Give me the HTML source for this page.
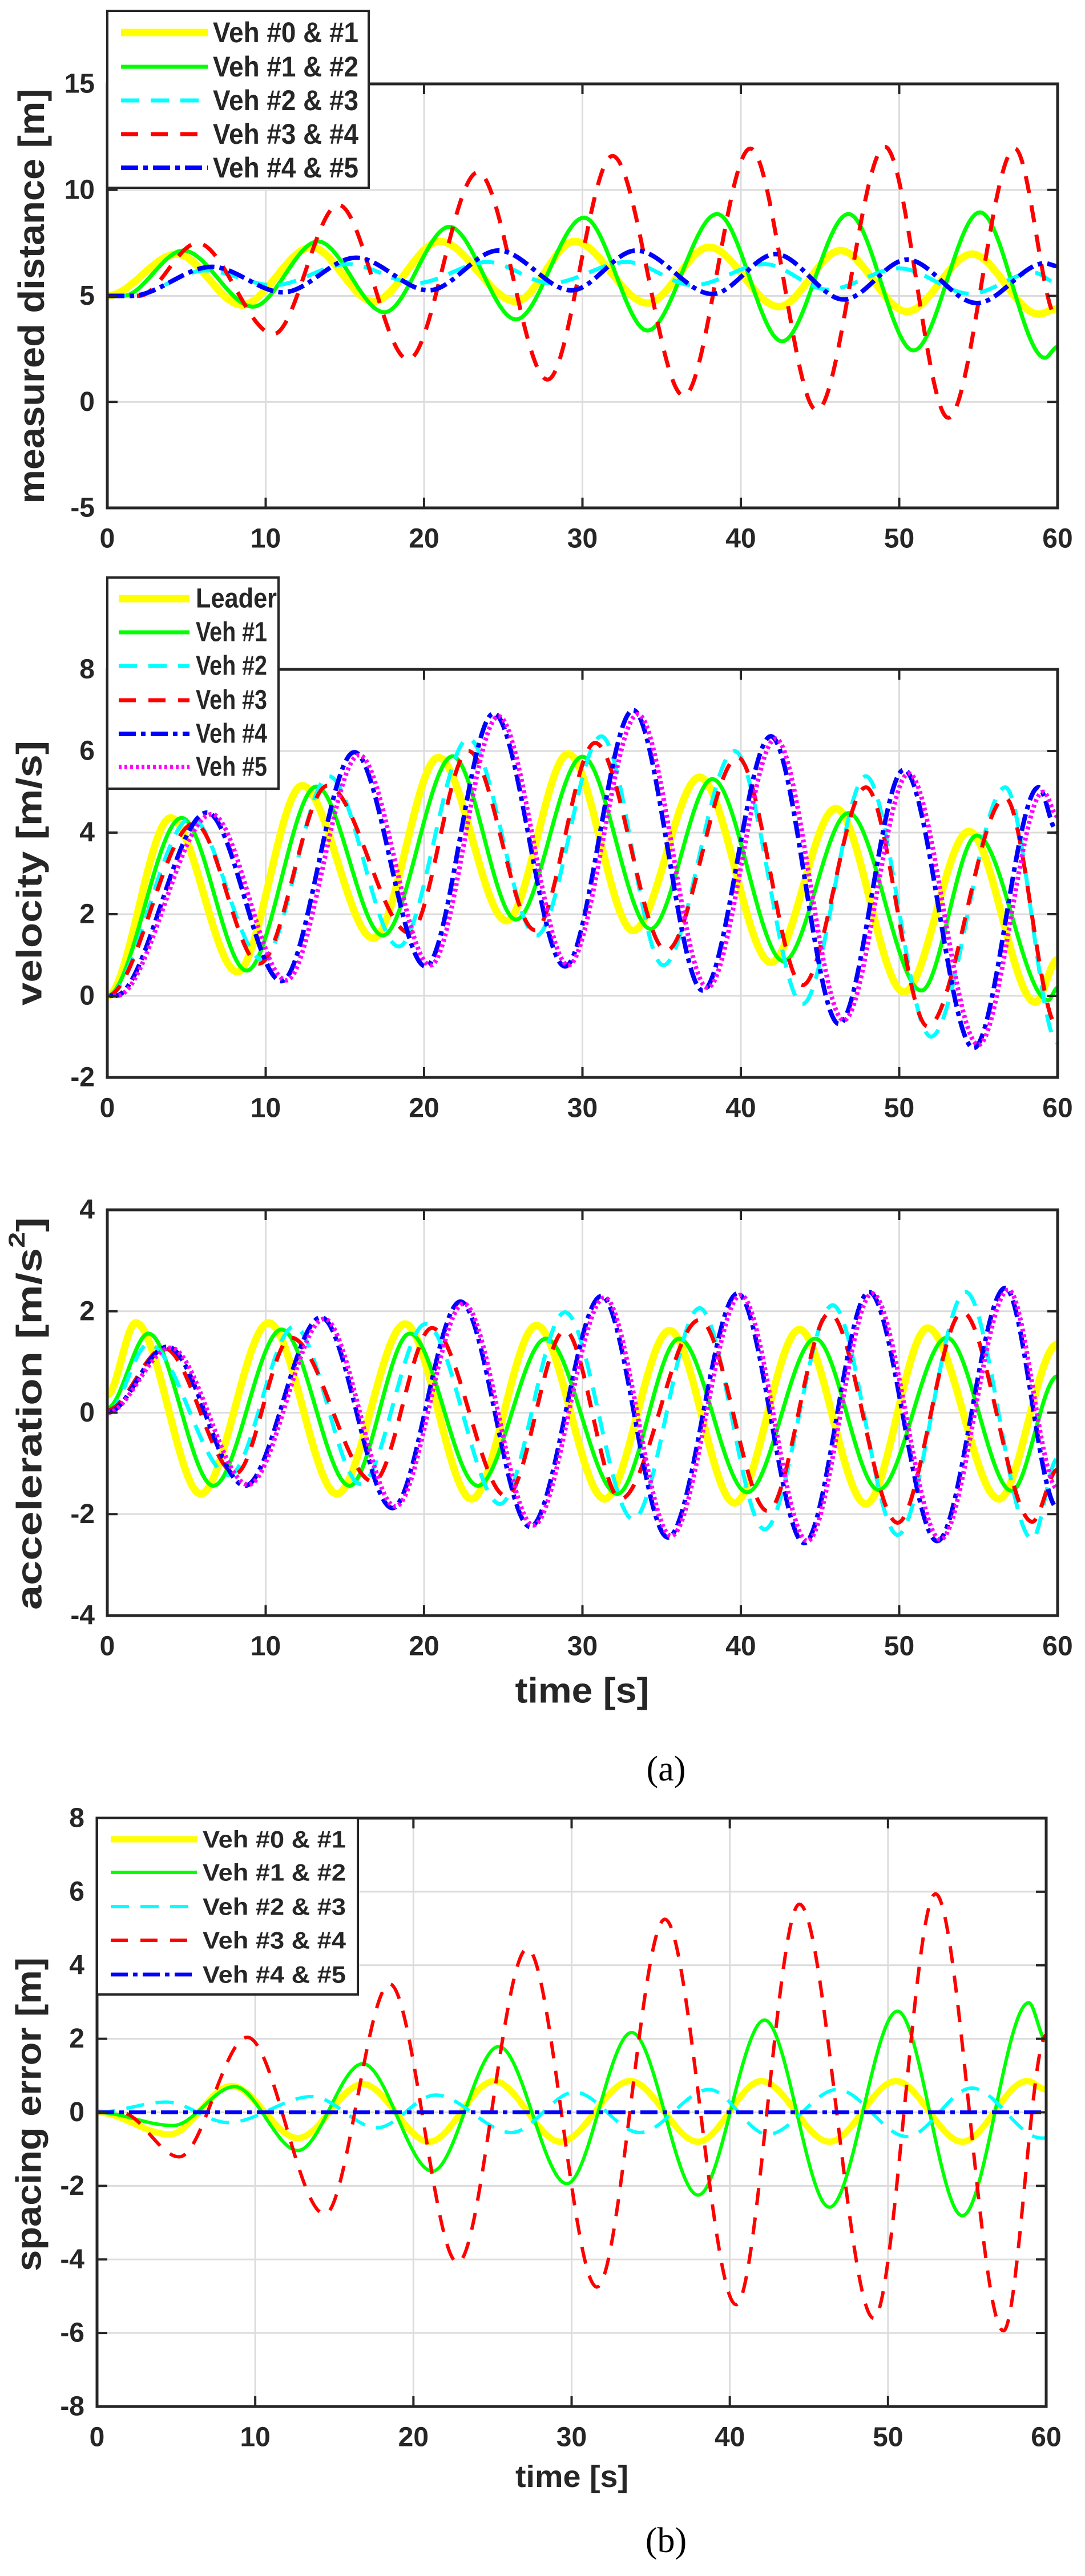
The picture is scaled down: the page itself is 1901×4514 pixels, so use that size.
<!DOCTYPE html>
<html><head><meta charset="utf-8"><title>Platoon simulation charts</title>
<style>
html,body{margin:0;padding:0;background:#fff;}
svg{display:block;}
text{font-family:"Liberation Sans",Arial,sans-serif;font-weight:bold;fill:#262626;}
.ser{font-family:"Liberation Serif","DejaVu Serif",serif;font-weight:normal;fill:#000;}
</style></head>
<body>
<svg id="fig" xmlns="http://www.w3.org/2000/svg" width="1901" height="4514" viewBox="0 0 1901 4514">
<rect x="0" y="0" width="1901" height="4514" fill="#fff"/>
<text class="ser" x="1167" y="3100" font-size="62" text-anchor="middle" dominant-baseline="central">(a)</text>
<text class="ser" x="1167" y="4452" font-size="62" text-anchor="middle" dominant-baseline="central">(b)</text>
</svg>
<script>
const xTicks = [0,10,20,30,40,50,60];
const p1Ticks = [-5,0,5,10,15];
const p2Ticks = [-2,0,2,4,6,8];
const p3Ticks = [-4,-2,0,2,4];
const pbTicks = [-8,-6,-4,-2,0,2,4,6,8];

const p1_t_01 = [0,4.4,8.5,12.9,16.8,21.0,25.8,29.5,34.1,38.0,42.4,46.3,50.5,54.6,58.8,60];
const p1_v_01 = [5,6.97,4.57,7.3,4.74,7.57,4.74,7.57,4.66,7.3,4.49,7.14,4.26,6.97,4.14,4.4];
const p1_t_12 = [0,1,4.8,9.2,13.3,17.5,21.6,25.8,30.1,34.1,38.5,42.6,46.8,50.9,55.1,59.2,60];
const p1_v_12 = [5,5,7.14,4.49,7.57,4.23,8.26,3.89,8.69,3.37,8.86,2.86,8.86,2.43,8.94,2.08,2.6];
const p1_t_23 = [0,1.5,6.2,10.5,15.2,19.5,24,28,32.8,37,41.5,45.5,50,54.5,58.5,60];
const p1_v_23 = [5,5,6.2,5.5,6.5,5.6,6.6,5.6,6.6,5.5,6.5,5.3,6.3,5.1,6.1,5.6];
const p1_t_34 = [0,2,5.7,10.5,14.6,19.0,23.4,27.8,31.9,36.4,40.6,44.8,49.1,53.1,57.3,60];
const p1_v_34 = [5,5,7.49,3.2,9.29,2.0,10.83,1.05,11.6,0.28,11.95,-0.4,12.03,-0.75,11.95,3.9];
const p1_t_45 = [0,1.5,6.6,11.1,15.7,20.3,24.7,29.3,33.4,38.2,42.2,46.5,50.5,54.9,59.2,60];
const p1_v_45 = [5,5,6.37,5.17,6.8,5.26,7.14,5.26,7.14,5.09,6.97,4.83,6.71,4.66,6.54,6.4];

const p2_t_L = [0,4.0,8.2,12.3,16.8,20.9,25.2,29.1,33.2,37.4,41.9,46.0,50.3,54.4,58.6,60];
const p2_v_L = [0,4.36,0.59,5.15,1.41,5.84,1.84,5.93,1.6,5.36,0.82,4.59,0.09,4.03,-0.16,0.89];
const p2_t_1 = [0,4.7,8.8,13.2,17.4,21.8,25.8,30.0,34.3,38.2,42.7,46.8,51.4,54.9,59.4,60];
const p2_v_1 = [0,4.36,0.62,5.13,1.48,5.87,1.87,5.86,1.64,5.31,0.85,4.48,0.13,3.93,-0.11,0.2];
const p2_t_2 = [0,5.3,9.8,14.0,18.4,22.8,27.1,31.2,35.1,39.6,43.9,47.9,52.0,56.7,60];
const p2_v_2 = [0,4.36,0.89,5.38,1.21,6.3,1.48,6.36,0.75,6.0,-0.2,5.38,-1.0,5.11,-1.15];
const p2_t_3 = [0,5.5,9.6,13.9,19.1,22.8,27.0,30.8,35.3,39.8,43.9,47.9,51.8,56.7,60];
const p2_v_3 = [0,4.23,0.79,5.15,1.54,6.0,1.61,6.2,1.11,5.84,0.26,5.11,-0.75,4.85,-0.75];
const p2_t_4 = [0,0.5,6.3,11.0,15.6,20.1,24.4,28.9,33.2,37.6,41.9,46.2,50.3,54.7,58.8,60];
const p2_v_4 = [0,0,4.49,0.36,5.97,0.72,6.92,0.72,7.0,0.13,6.36,-0.69,5.54,-1.28,5.11,4.0];
const p2_t_5 = [0,0.6,6.6,11.3,15.9,20.4,24.7,29.1,33.5,37.9,42.2,46.5,50.6,55.0,59.1,60];
const p2_v_5 = [0,0,4.45,0.38,5.9,0.75,6.85,0.75,6.9,0.2,6.3,-0.6,5.45,-1.2,5.0,4.4];

const p3_t_L = [0,1.8,5.9,10.2,14.5,18.8,23.0,27.1,31.4,35.5,39.6,43.7,47.9,51.8,56.3,60];
const p3_v_L = [0.35,1.77,-1.6,1.77,-1.6,1.75,-1.7,1.72,-1.7,1.62,-1.78,1.64,-1.8,1.67,-1.7,1.35];
const p3_t_1 = [0,2.6,6.7,11.0,15.3,19.1,23.4,27.7,32.2,36.1,40.4,44.7,48.7,53.0,57.1,60];
const p3_v_1 = [0.09,1.56,-1.44,1.64,-1.44,1.56,-1.44,1.46,-1.6,1.46,-1.57,1.46,-1.52,1.48,-1.54,0.72];
const p3_t_2 = [0,2.6,7.7,11.8,16.0,20.1,24.8,28.9,33.2,37.4,41.5,45.8,49.9,54.2,58.4,60];
const p3_v_2 = [0,1.35,-1.23,1.7,-1.41,1.75,-1.8,1.98,-2.1,2.06,-2.3,2.12,-2.41,2.38,-2.49,-0.9];
const p3_t_3 = [0,3.6,8.1,11.6,16.8,20.5,25.2,28.9,32.4,37.4,41.7,45.6,49.9,54.0,58.4,60];
const p3_v_3 = [0.05,1.27,-1.2,1.48,-1.36,1.67,-1.65,1.62,-1.7,1.83,-1.94,1.96,-2.17,1.98,-2.15,-1.12];
const p3_t_4 = [0,3.8,8.7,13.5,18.0,22.3,26.7,31.2,35.4,39.8,44.0,48.1,52.4,56.7,60];
const p3_v_4 = [0,1.3,-1.44,1.88,-1.88,2.19,-2.25,2.3,-2.46,2.35,-2.57,2.38,-2.53,2.46,-1.88];
const p3_t_5 = [0,4.0,8.9,13.7,18.2,22.5,26.9,31.4,35.6,40.0,44.2,48.3,52.6,56.9,60];
const p3_v_5 = [0,1.28,-1.42,1.85,-1.85,2.15,-2.22,2.27,-2.43,2.32,-2.53,2.35,-2.5,2.42,-1.5];

const pb_t_01 = [0,4.6,8.5,12.7,16.8,21.0,25.1,29.3,33.7,38.0,42.0,46.3,50.5,54.7,58.8,60];
const pb_v_01 = [0,-0.6,0.72,-0.7,0.77,-0.8,0.85,-0.8,0.85,-0.8,0.85,-0.8,0.85,-0.8,0.85,0.62];
const pb_t_12 = [0,4.8,8.7,12.7,16.8,21.2,25.4,29.7,33.8,38.0,42.2,46.3,50.6,54.7,58.9,60];
const pb_v_12 = [0,-0.36,0.7,-1.04,1.32,-1.6,1.79,-1.94,2.17,-2.25,2.51,-2.58,2.75,-2.81,2.98,1.94];
const pb_t_23 = [0,4.4,8.3,13.6,17.7,21.4,26.2,30.2,34.3,38.7,42.4,46.8,51.2,55.3,59.7,60];
const pb_v_23 = [0,0.28,-0.28,0.43,-0.42,0.47,-0.55,0.55,-0.55,0.62,-0.6,0.62,-0.66,0.66,-0.7,-0.7];
const pb_t_34 = [0,1.5,5.2,9.5,14.4,18.5,22.8,27.2,31.6,35.9,40.4,44.4,49.1,53.0,57.3,60];
const pb_v_34 = [0,0,-1.21,2.04,-2.77,3.49,-4.09,4.45,-4.75,5.25,-5.23,5.66,-5.6,5.94,-5.94,2.1];
const pb_t_45 = [0,60];
const pb_v_45 = [0,0];

const legPairs = ["Veh #0 & #1","Veh #1 & #2","Veh #2 & #3","Veh #3 & #4","Veh #4 & #5"];
const legVeh = ["Leader","Veh #1","Veh #2","Veh #3","Veh #4","Veh #5"];

const NS = "http://www.w3.org/2000/svg";
const svg = document.getElementById('fig');
function mk(tag, attrs, parent){
  const e = document.createElementNS(NS, tag);
  for (const k in attrs) e.setAttribute(k, attrs[k]);
  (parent||svg).appendChild(e);
  return e;
}
const ST = {
  yellow:{stroke:"#ffff00", w:13, dash:"none"},
  green:{stroke:"#00ff00", w:7, dash:"none"},
  cyan:{stroke:"#00ffff", w:7, dash:"32 20"},
  red:{stroke:"#ff0000", w:7, dash:"30 22"},
  blue:{stroke:"#0000ff", w:8, dash:"30 9 8 9"},
  magenta:{stroke:"#ff00ff", w:8, dash:"5 5"}
};

function plot(cfg){
  const g = mk('g', {});
  
  
  const X = t => cfg.L + (t - 0) / 60 * (cfg.R - cfg.L);
  const Y = v => cfg.B - (v - cfg.ymin) / (cfg.ymax - cfg.ymin) * (cfg.B - cfg.T);
  const clipId = 'clip-' + cfg.name;
  const cp = mk('clipPath', {id: clipId}, g);
  mk('rect', {x: cfg.L, y: cfg.T, width: cfg.R - cfg.L, height: cfg.B - cfg.T}, cp);
  xTicks.forEach(t => {
    const l = mk('line', {x1: X(t), x2: X(t), y1: cfg.T, y2: cfg.B, stroke: "#dcdcdc", 'stroke-width': 3}, g);
    
    
  });
  cfg.yticks.forEach(v => {
    const l = mk('line', {x1: cfg.L, x2: cfg.R, y1: Y(v), y2: Y(v), stroke: "#dcdcdc", 'stroke-width': 3}, g);
    
    
  });
  const sg = mk('g', {'clip-path': 'url(#' + clipId + ')'}, g);
  cfg.series.forEach(s => {
    const st = ST[s.style];
    let d = '';
    for (let i = 0; i < s.t.length; i++) {
      const x = X(s.t[i]), y = Y(s.v[i]);
      if (i === 0) { d += 'M' + x.toFixed(1) + ' ' + y.toFixed(1); continue; }
      const px = X(s.t[i-1]), py = Y(s.v[i-1]);
      const dx = (x - px) / 3;
      d += ' C' + (px + dx).toFixed(1) + ' ' + py.toFixed(1) + ' ' + (x - dx).toFixed(1) + ' ' + y.toFixed(1) + ' ' + x.toFixed(1) + ' ' + y.toFixed(1);
    }
    const p = mk('path', {d: d, fill: 'none', stroke: st.stroke, 'stroke-width': st.w * (cfg.lw || 1), 'stroke-dasharray': st.dash, 'stroke-linejoin': 'round'}, sg);
    
    
  });
  const fr = mk('rect', {x: cfg.L, y: cfg.T, width: cfg.R - cfg.L, height: cfg.B - cfg.T, fill: 'none', stroke: '#262626', 'stroke-width': 5}, g);
  
  
  const tw = cfg.tickWeight || 'bold';
  xTicks.forEach(t => {
    mk('line', {x1: X(t), x2: X(t), y1: cfg.B, y2: cfg.B - 18, stroke: '#262626', 'stroke-width': 4}, g);
    mk('line', {x1: X(t), x2: X(t), y1: cfg.T, y2: cfg.T + 18, stroke: '#262626', 'stroke-width': 4}, g);
    const tx = mk('text', {x: X(t), y: cfg.B + 54, 'font-size': 48, 'font-weight': tw, 'text-anchor': 'middle', 'dominant-baseline': 'central'}, g);
    tx.textContent = t;
    
    
  });
  cfg.yticks.forEach(v => {
    mk('line', {x1: cfg.L, x2: cfg.L + 18, y1: Y(v), y2: Y(v), stroke: '#262626', 'stroke-width': 4}, g);
    mk('line', {x1: cfg.R, x2: cfg.R - 18, y1: Y(v), y2: Y(v), stroke: '#262626', 'stroke-width': 4}, g);
    const ty = mk('text', {x: cfg.L - 22, y: Y(v), 'font-size': 48, 'font-weight': tw, 'text-anchor': 'end', 'dominant-baseline': 'central'}, g);
    ty.textContent = v;
    
    
  });
  const yt = mk('text', {x: 0, y: 0, 'font-size': cfg.yfs, 'text-anchor': 'middle', 'dominant-baseline': 'central',
    transform: 'translate(' + cfg.ytx + ',' + cfg.yty + ') rotate(-90)', textLength: cfg.ytl, lengthAdjust: 'spacingAndGlyphs'}, g);
  yt.innerHTML = cfg.ytitle;
  
  
  if (cfg.xtitle) {
    const xt = mk('text', {x: cfg.xtx, y: cfg.xty, 'font-size': cfg.xfs, 'text-anchor': 'middle', 'dominant-baseline': 'central', textLength: cfg.xtl, lengthAdjust: 'spacingAndGlyphs'}, g);
    xt.textContent = cfg.xtitle;
    
    
  }
  if (cfg.leg) {
    const lg = cfg.leg;
    const lgg = mk('g', {}, g);
    
    
    mk('rect', {x: lg.x, y: lg.y, width: lg.w, height: lg.h, fill: '#fff', stroke: '#262626', 'stroke-width': 4}, lgg);
    cfg.series.forEach((s, i) => {
      const st = ST[s.style];
      const yy = lg.rows[i];
      mk('line', {x1: lg.lx1, x2: lg.lx2, y1: yy, y2: yy, stroke: st.stroke, 'stroke-width': st.w * (cfg.lw || 1), 'stroke-dasharray': st.dash}, lgg);
      const t = mk('text', {x: lg.tx, y: yy, 'font-size': lg.fs, 'dominant-baseline': 'central', fill: '#000', textLength: lg.tl[i], lengthAdjust: 'spacingAndGlyphs'}, lgg);
      t.textContent = lg.labels[i];
      
      
    });
  }
}

plot({name: 'distance-chart', L: 188, R: 1853, T: 147, B: 890, ymin: -5, ymax: 15, yticks: p1Ticks,
  ytitle: 'measured distance [m]', ytx: 55, yty: 519, yfs: 64, ytl: 727,
  series: [
    {name: 'veh01-distance', t: p1_t_01, v: p1_v_01, style: 'yellow'},
    {name: 'veh12-distance', t: p1_t_12, v: p1_v_12, style: 'green'},
    {name: 'veh23-distance', t: p1_t_23, v: p1_v_23, style: 'cyan'},
    {name: 'veh34-distance', t: p1_t_34, v: p1_v_34, style: 'red'},
    {name: 'veh45-distance', t: p1_t_45, v: p1_v_45, style: 'blue'}],
  leg: {x: 188, y: 19, w: 458, h: 310, lx1: 212, lx2: 364, tx: 373, fs: 50, rows: [57, 117, 176, 235, 294], labels: legPairs, tl: [255, 255, 255, 255, 255]}
});
plot({name: 'velocity-chart', L: 188, R: 1853, T: 1173, B: 1888, ymin: -2, ymax: 8, yticks: p2Ticks, tickWeight: 'normal',
  ytitle: 'velocity [m/s]', ytx: 52, yty: 1530, yfs: 62, ytl: 464,
  series: [
    {name: 'leader-velocity', t: p2_t_L, v: p2_v_L, style: 'yellow'},
    {name: 'veh1-velocity', t: p2_t_1, v: p2_v_1, style: 'green'},
    {name: 'veh2-velocity', t: p2_t_2, v: p2_v_2, style: 'cyan'},
    {name: 'veh3-velocity', t: p2_t_3, v: p2_v_3, style: 'red'},
    {name: 'veh4-velocity', t: p2_t_4, v: p2_v_4, style: 'blue'},
    {name: 'veh5-velocity', t: p2_t_5, v: p2_v_5, style: 'magenta'}],
  leg: {x: 188, y: 1012, w: 300, h: 370, lx1: 208, lx2: 332, tx: 343, fs: 48, rows: [1049, 1108, 1167, 1227, 1286, 1344], labels: legVeh, tl: [142, 125, 125, 125, 125, 125]}
});
plot({name: 'acceleration-chart', L: 188, R: 1853, T: 2120, B: 2831, ymin: -4, ymax: 4, yticks: p3Ticks,
  ytitle: 'acceleration [m/s<tspan font-size="40" dy="-22">2</tspan><tspan dy="22">]</tspan>', ytx: 52, yty: 2477, yfs: 62, ytl: 688,
  xtitle: 'time [s]', xtx: 1020, xty: 2963, xfs: 62, xtl: 235,
  series: [
    {name: 'leader-acceleration', t: p3_t_L, v: p3_v_L, style: 'yellow'},
    {name: 'veh1-acceleration', t: p3_t_1, v: p3_v_1, style: 'green'},
    {name: 'veh2-acceleration', t: p3_t_2, v: p3_v_2, style: 'cyan'},
    {name: 'veh3-acceleration', t: p3_t_3, v: p3_v_3, style: 'red'},
    {name: 'veh4-acceleration', t: p3_t_4, v: p3_v_4, style: 'blue'},
    {name: 'veh5-acceleration', t: p3_t_5, v: p3_v_5, style: 'magenta'}]
});
plot({name: 'spacing-error-chart', L: 170, R: 1833, T: 3186, B: 4217, ymin: -8, ymax: 8, yticks: pbTicks, lw: 0.85,
  ytitle: 'spacing error [m]', ytx: 51, yty: 3705, yfs: 62, ytl: 550,
  xtitle: 'time [s]', xtx: 1002, xty: 4340, xfs: 54, xtl: 198,
  series: [
    {name: 'veh01-spacing-error', t: pb_t_01, v: pb_v_01, style: 'yellow'},
    {name: 'veh12-spacing-error', t: pb_t_12, v: pb_v_12, style: 'green'},
    {name: 'veh23-spacing-error', t: pb_t_23, v: pb_v_23, style: 'cyan'},
    {name: 'veh34-spacing-error', t: pb_t_34, v: pb_v_34, style: 'red'},
    {name: 'veh45-spacing-error', t: pb_t_45, v: pb_v_45, style: 'blue'}],
  leg: {x: 170, y: 3186, w: 457, h: 309, lx1: 194, lx2: 345, tx: 355, fs: 42, rows: [3223, 3281, 3341, 3400, 3460], labels: legPairs, tl: [251, 251, 251, 251, 251]}
});
</script>
</body></html>
